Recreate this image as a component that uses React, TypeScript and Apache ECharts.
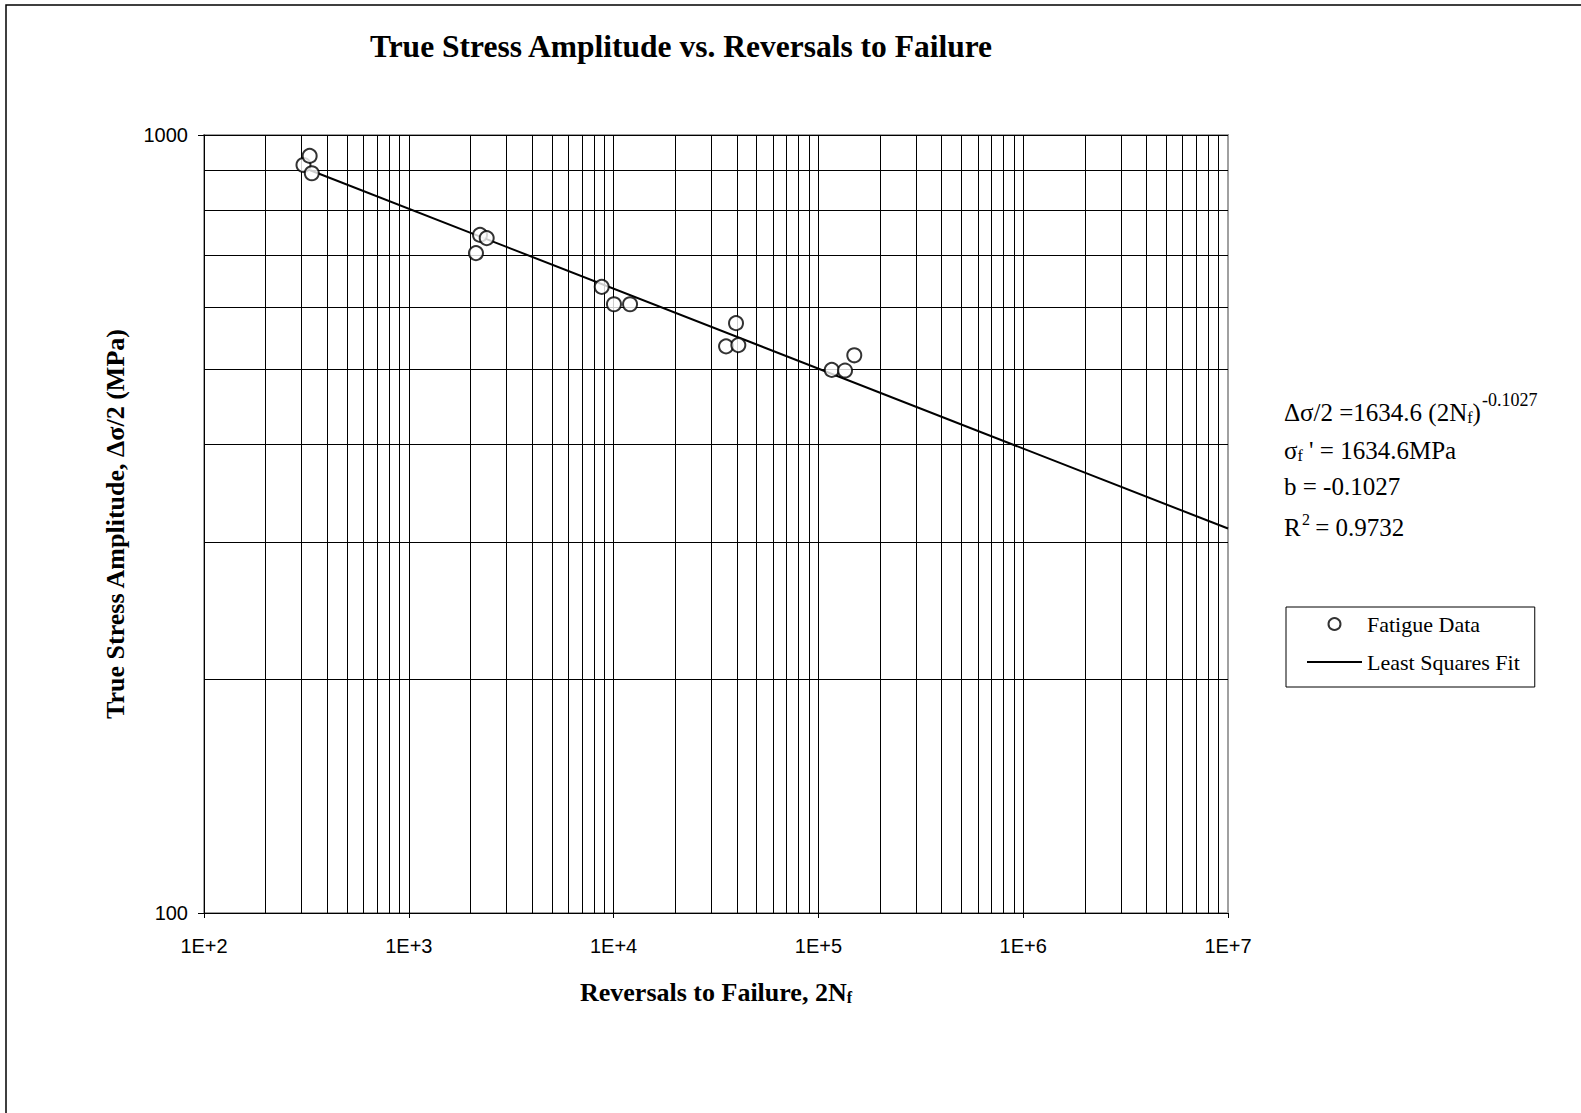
import React, { useEffect, useRef } from "react";
import * as echarts from "echarts";

const reversals = [306, 328, 336, 2227, 2401, 2128, 8750, 10040, 12030, 39600, 35400, 40650, 116200, 134900, 149700];
const stressAmp = [915, 940, 893, 744, 737, 705, 638, 606, 606, 573, 535, 537, 499, 498, 521];
const fitReversals = [330, 10000000];
const fitStress = [901, 312];

const xDecades = [100, 1000, 10000, 100000, 1000000];
const minorMultipliers = [2, 3, 4, 5, 6, 7, 8, 9];
const yMinorTicks = [200, 300, 400, 500, 600, 700, 800, 900];

const SERIF = "'Liberation Serif', 'Times New Roman', serif";
const SANS = "'Liberation Sans', Arial, sans-serif";

export default function App() {
  const ref = useRef<HTMLDivElement>(null);
  useEffect(() => {
    if (!ref.current) return;
    const chart = echarts.init(ref.current, undefined, { renderer: "svg" });
    const xMinor: number[] = [];
    xDecades.forEach((d) => minorMultipliers.forEach((m) => xMinor.push(d * m)));
    const gridMarks = [
      ...xMinor.map((v) => ({ xAxis: v })),
      ...yMinorTicks.map((v) => ({ yAxis: v })),
    ];
    const main = { fontFamily: SERIF, fontSize: 25, fill: "#000" };
    chart.setOption({
      animation: false,
      backgroundColor: "#fff",
      title: {
        text: "True Stress Amplitude vs. Reversals to Failure",
        left: 676,
        top: 25,
        textAlign: "center",
        textStyle: { fontFamily: SERIF, fontSize: 31.5, fontWeight: "bold", color: "#000" },
      },
      grid: {
        left: 204,
        right: 353,
        top: 135,
        bottom: 200,
        show: true,
        borderColor: "#a0a0a0",
        borderWidth: 2,
        backgroundColor: "transparent",
      },
      legend: {
        orient: "vertical",
        left: 1286,
        top: 607,
        padding: [6, 15, 14, 21],
        itemWidth: 55,
        itemHeight: 12,
        itemGap: 16,
        symbolKeepAspect: true,
        borderColor: "#000",
        borderWidth: 1,
        backgroundColor: "#fff",
        textStyle: { fontFamily: SERIF, fontSize: 22, color: "#000" },
        data: [
          { name: "Fatigue Data" },
          {
            name: "Least Squares Fit",
            icon: "path://M0,0L100,0L100,4L0,4Z",
            itemStyle: { color: "#000", borderWidth: 0 },
          },
        ],
      },
      xAxis: {
        type: "log",
        logBase: 10,
        min: 100,
        max: 10000000,
        name: "{a|Reversals to Failure, 2N}{s|f}",
        nameLocation: "middle",
        nameGap: 66,
        nameTextStyle: {
          rich: {
            a: { fontFamily: SERIF, fontSize: 26, fontWeight: "bold", color: "#000", verticalAlign: "bottom" },
            s: { fontFamily: SERIF, fontSize: 16, fontWeight: "bold", color: "#000", verticalAlign: "bottom" },
          },
        },
        axisLine: { show: true, lineStyle: { color: "#000", width: 1 } },
        axisTick: { show: true, length: 5, inside: false, lineStyle: { color: "#000" } },
        axisLabel: {
          margin: 23,
          fontFamily: SANS,
          fontSize: 20,
          color: "#000",
          formatter: (v: number) => "1E+" + Math.round(Math.log10(v)),
        },
        splitLine: {
          show: true,
          lineStyle: { color: ["#000", "#000", "#000", "#000", "#000", "#a0a0a0"], width: 1 },
        },
      },
      yAxis: {
        type: "log",
        logBase: 10,
        min: 100,
        max: 1000,
        name: "True Stress Amplitude, Δσ/2 (MPa)",
        nameLocation: "middle",
        nameGap: 76,
        nameRotate: 90,
        nameTextStyle: { fontFamily: SERIF, fontSize: 26, fontWeight: "bold", color: "#000" },
        axisLine: { show: true, lineStyle: { color: "#000", width: 1 } },
        axisTick: { show: true, length: 6, inside: false, lineStyle: { color: "#000" } },
        axisLabel: {
          margin: 16,
          fontFamily: SANS,
          fontSize: 20,
          color: "#000",
          formatter: (v: number) => String(Math.round(v)),
        },
        splitLine: { show: true, lineStyle: { color: "#000", width: 1 } },
      },
      graphic: [
        {
          type: "rect",
          silent: true,
          shape: { x: 6, y: 5, width: 1600, height: 1200 },
          style: { fill: "none", stroke: "#000", lineWidth: 1.5 },
          z: 100,
        },
        {
          type: "text",
          x: 1284,
          y: 400,
          style: {
            text: "{m|Δσ/2 =1634.6 (2N}{s|f}{m|)}",
            rich: {
              m: { ...main, verticalAlign: "bottom" },
              s: { fontFamily: SERIF, fontSize: 16, fill: "#000", verticalAlign: "bottom" },
            },
          },
        },
        {
          type: "text",
          x: 1482,
          y: 391,
          style: { text: "-0.1027", fontFamily: SERIF, fontSize: 18, fill: "#000" },
        },
        {
          type: "text",
          x: 1284,
          y: 438,
          style: {
            text: "{m|σ}{s|f}{m| ' = 1634.6MPa}",
            rich: {
              m: { ...main, verticalAlign: "bottom" },
              s: { fontFamily: SERIF, fontSize: 16, fill: "#000", verticalAlign: "bottom" },
            },
          },
        },
        {
          type: "text",
          x: 1284,
          y: 474,
          style: { text: "b = -0.1027", ...main },
        },
        {
          type: "text",
          x: 1284,
          y: 515,
          style: { text: "R", ...main },
        },
        {
          type: "text",
          x: 1302,
          y: 511,
          style: { text: "2", fontFamily: SERIF, fontSize: 16, fill: "#000" },
        },
        {
          type: "text",
          x: 1309,
          y: 515,
          style: { text: " = 0.9732", ...main },
        },
      ],
      series: [
        {
          name: "Least Squares Fit",
          type: "line",
          data: fitReversals.map((x, i) => [x, fitStress[i]]),
          symbol: "none",
          lineStyle: { color: "#000", width: 2 },
          itemStyle: { color: "#000" },
          z: 3,
          markLine: {
            silent: true,
            symbol: ["none", "none"],
            label: { show: false },
            lineStyle: { color: "#000", width: 1, type: "solid" },
            emphasis: { disabled: true },
            data: gridMarks,
            z: 1,
          },
        },
        {
          name: "Fatigue Data",
          type: "scatter",
          data: reversals.map((x, i) => [x, stressAmp[i]]),
          symbol: "circle",
          symbolSize: 14,
          symbolKeepAspect: true,
          itemStyle: { color: "#fff", borderColor: "#000", borderWidth: 2 },
          z: 5,
        },
      ],
    });
    return () => chart.dispose();
  }, []);
  return (
    <div
      ref={ref}
      style={{ position: "fixed", left: 0, top: 0, width: 1581, height: 1113 }}
    />
  );
}
